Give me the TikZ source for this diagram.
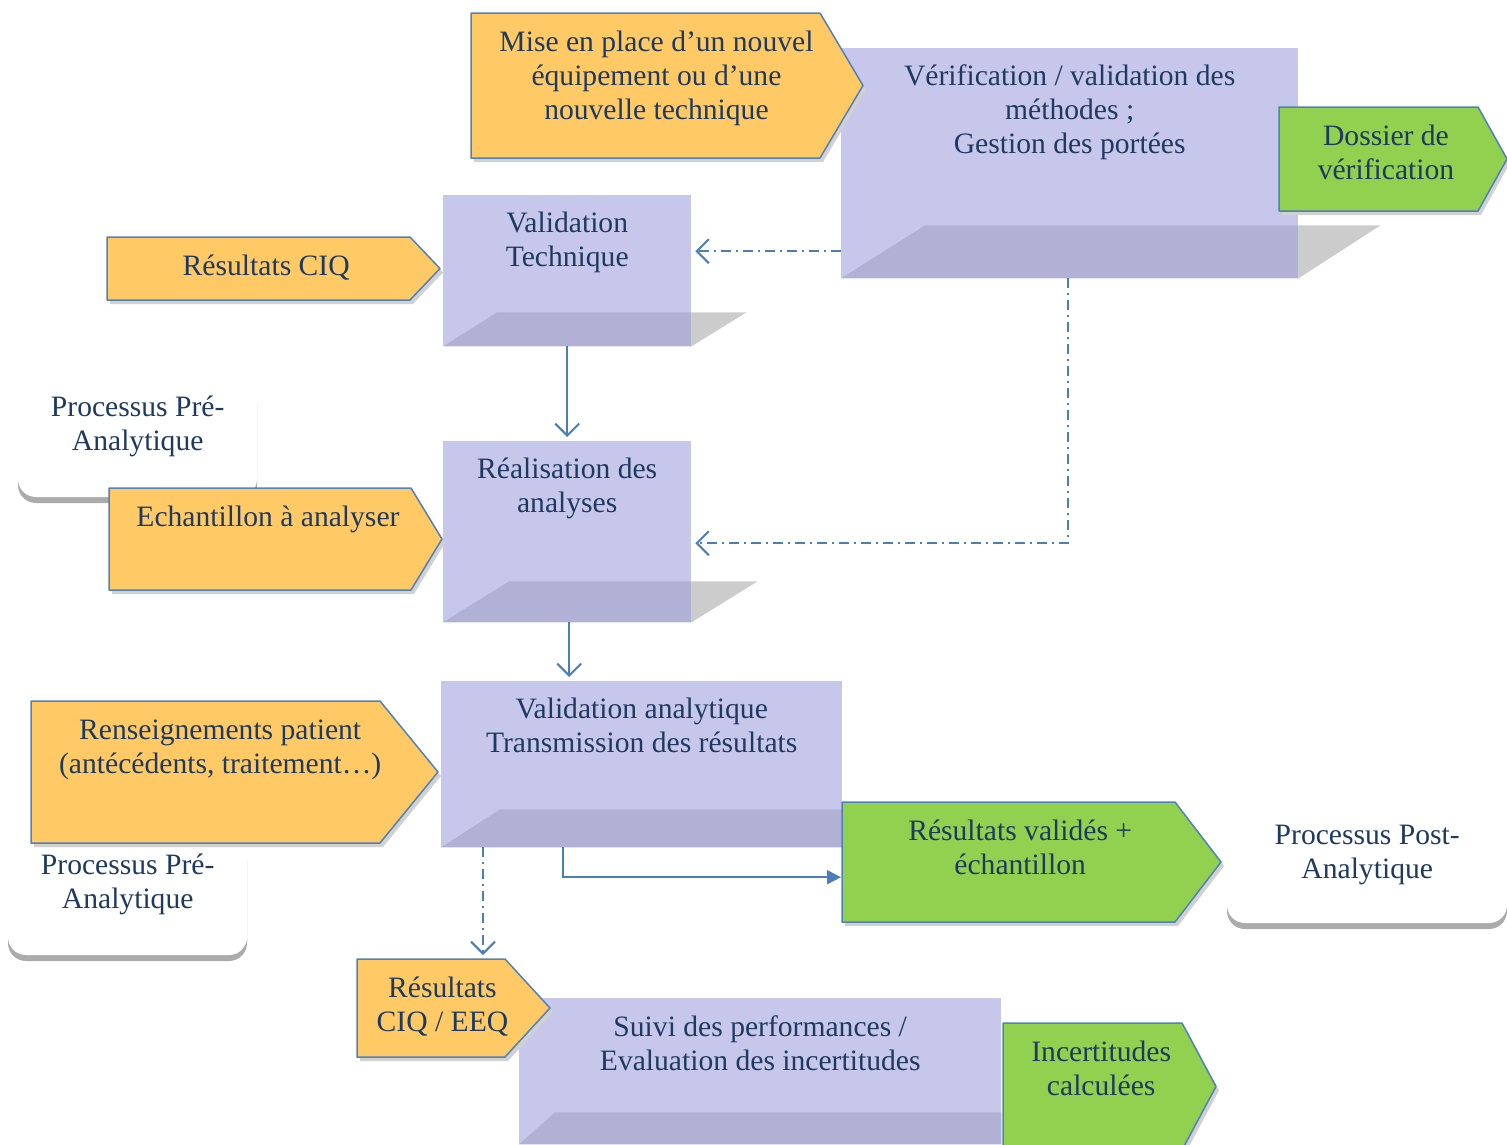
\documentclass[tikz,border=0pt]{standalone}
\usepackage{fontspec}
\setmainfont{Liberation Serif}
\usetikzlibrary{arrows.meta}

\definecolor{ink}{HTML}{1F3A60}
\definecolor{procfill}{HTML}{C7C7EB}
\definecolor{bandfill}{HTML}{B1B1D6}
\definecolor{bandgrey}{HTML}{CCCCCC}
\definecolor{tagyellow}{HTML}{FFCA66}
\definecolor{taggreen}{HTML}{92D050}
\definecolor{tagedge}{HTML}{4F81BD}
\definecolor{linkblue}{HTML}{4A7EBB}

\begin{document}
\begin{tikzpicture}[x=1pt, y=-1pt,
  every node/.style={font=\fontsize{29.6}{34}\selectfont, text=ink},
  proc/.style={fill=procfill, inner sep=0, anchor=north west},
  tagbody/.style={inner sep=0, anchor=north west},
  tagline/.style={draw=tagedge, line width=1.5pt, line join=round},
  tagshadow/.style={fill=black!18},
  note/.style={fill=white, rounded corners=18pt},
  noteshadow/.style={fill=black!33, rounded corners=18pt},
  txt/.style={align=center, anchor=base, inner sep=0},
  flow/.style={draw=linkblue, line width=2pt, -{Straight Barb[length=12pt,width=24pt,line width=2pt]}, shorten >=4pt},
  linkdash/.style={dash pattern=on 10pt off 5pt on 2pt off 5pt}]
\useasboundingbox (0,0) rectangle (1507,1144);

% boites blanches (processus pre / post)
\foreach \n/\xa/\ya/\xb/\yb in {pre1/18/379/257/497, pre2/8/837/247/955, post/1227/807/1507/923} {
 \fill[noteshadow] (\xa,\ya+6) rectangle (\xb,\yb+6);
 \fill[note] (\xa,\ya) rectangle (\xb,\yb);
 \path (\xa,\ya) node[tagbody, minimum width={(\xb-\xa)*1pt}, minimum height={(\yb-\ya)*1pt}] (\n) {};
}

% etapes du processus
\node[proc, minimum width=457pt, minimum height=230pt] (verif) at (841,48) {};
\node[proc, minimum width=248pt, minimum height=151pt] (valtech) at (443,195) {};
\node[proc, minimum width=248pt, minimum height=181pt] (realis) at (443,441) {};
\node[proc, minimum width=401pt, minimum height=166pt] (valana) at (441,681) {};
\node[proc, minimum width=482pt, minimum height=146pt] (suivi) at (519,998) {};
\foreach \n/\dx/\dy/\ext in {verif/84/53/82, valtech/54/34/55, realis/66/41/66, valana/59/38/0, suivi/36/32/0} {
 \fill[bandgrey] (\n.south east) -- ++(0,-\dy) -- ++(\ext,0) -- cycle;
 \fill[bandfill] (\n.south west) -- ++(\dx,-\dy) -- ([yshift=\dy pt]\n.south east) -- (\n.south east) -- cycle;
}

% entrees (jaune) et sorties (vert)
\foreach \n/\xa/\ya/\xb/\yb/\tip/\c in {
  mise/471/13/820/158/43/tagyellow,
  ciq/107/237/410/300/30/tagyellow,
  echant/109/488/411/590/31/tagyellow,
  renseig/31/701/380/843/58/tagyellow,
  ciqeeq/357/959/505/1057/45/tagyellow,
  dossier/1279/107/1478/211/29/taggreen,
  resval/842/802/1175/922/46/taggreen,
  incert/1003/1023/1182/1150/34/taggreen} {
 \fill[tagshadow, shift={(3,4)}] (\xa,\ya) -- (\xb,\ya) -- (\xb+\tip,{(\ya+\yb)/2}) -- (\xb,\yb) -- (\xa,\yb) -- cycle;
 \draw[tagline, fill=\c] (\xa,\ya) -- (\xb,\ya) -- (\xb+\tip,{(\ya+\yb)/2}) -- (\xb,\yb) -- (\xa,\yb) -- cycle;
 \path (\xa,\ya) node[tagbody, minimum width={(\xb-\xa+\tip/2)*1pt}, minimum height={(\yb-\ya)*1pt}] (\n) {};
}

% textes (base = derniere ligne)
\node[txt] (verif-t) at ([yshift=-105pt]verif.north) {Vérification / validation des\\méthodes ;\\Gestion des portées};
\node[txt] (valtech-t) at ([yshift=-71pt]valtech.north) {Validation\\Technique};
\node[txt] (realis-t) at ([yshift=-71pt]realis.north) {Réalisation des\\analyses};
\node[txt] (valana-t) at ([yshift=-71pt]valana.north) {Validation analytique\\Transmission des résultats};
\node[txt] (suivi-t) at ([yshift=-72pt]suivi.north) {Suivi des performances /\\Evaluation des incertitudes};
\node[txt] (mise-t) at ([yshift=-106pt]mise.north) {Mise en place d’un nouvel\\équipement ou d’une\\nouvelle technique};
\node[txt] (ciq-t) at ([yshift=-38pt]ciq.north) {Résultats CIQ};
\node[txt] (echant-t) at ([yshift=-38pt]echant.north) {Echantillon à analyser};
\node[txt] (renseig-t) at ([yshift=-72pt]renseig.north) {Renseignements patient\\(antécédents, traitement…)};
\node[txt] (ciqeeq-t) at ([yshift=-72pt]ciqeeq.north) {Résultats\\CIQ / EEQ};
\node[txt] (dossier-t) at ([yshift=-72pt]dossier.north) {Dossier de\\vérification};
\node[txt] (resval-t) at ([yshift=-72pt]resval.north) {Résultats validés +\\échantillon};
\node[txt] (incert-t) at ([yshift=-72pt]incert.north) {Incertitudes\\calculées};
\node[txt] (pre1-t) at ([yshift=-71pt]pre1.north) {Processus Pré-\\Analytique};
\node[txt] (pre2-t) at ([yshift=-71pt]pre2.north) {Processus Pré-\\Analytique};
\node[txt] (post-t) at ([yshift=-71pt]post.north) {Processus Post-\\Analytique};

% liaisons
\draw[flow, linkdash] ([yshift=-88pt]verif.west) -- ([yshift=-88pt]verif.west -| valtech.east);
\draw[flow, linkdash] ([xshift=-2pt]verif.south) |- ([yshift=-11.5pt]realis.east);
\draw[flow] (valtech.south) -- (realis.north);
\draw[flow] ([xshift=2pt]realis.south) -- ([xshift=2pt]realis.south |- valana.north);
\draw[flow, linkdash] ([xshift=42pt]valana.south west) -- ([xshift=42pt]valana.south west |- ciqeeq.north);
\draw[flow, -{Triangle[length=14pt,width=14pt]}, shorten >=1pt] ([xshift=122pt]valana.south west) |- ([yshift=-15pt]resval.west);
\end{tikzpicture}
\end{document}
